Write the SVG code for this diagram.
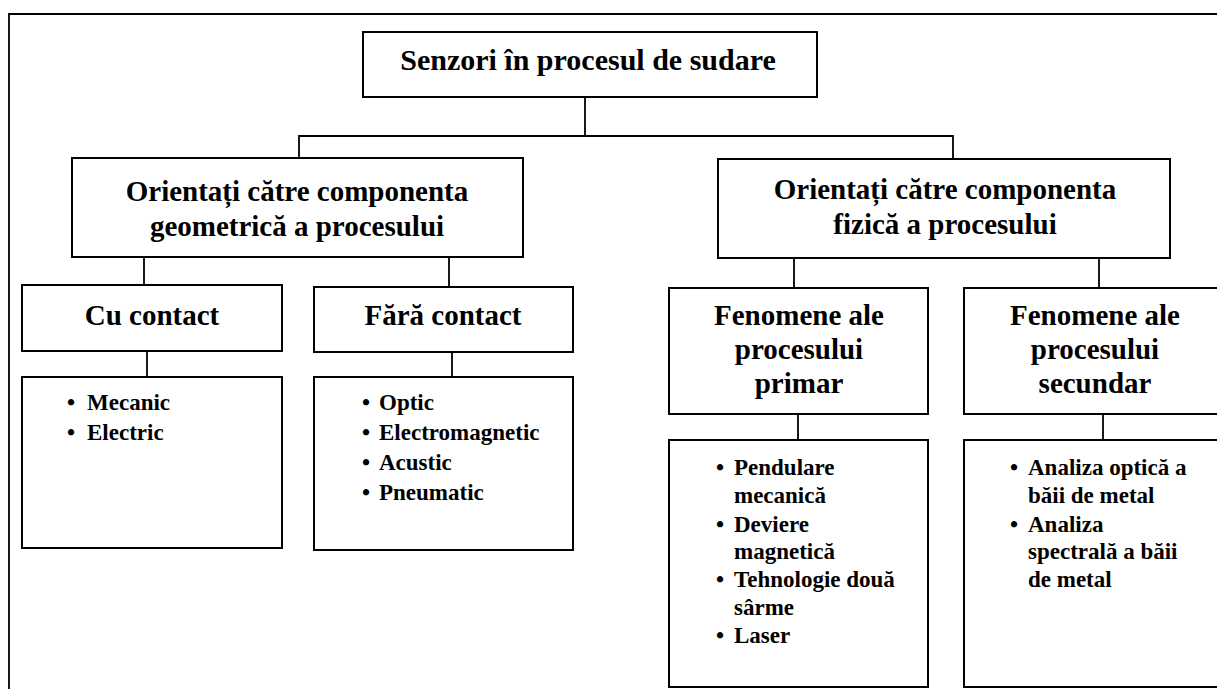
<svg xmlns="http://www.w3.org/2000/svg" width="1217" height="689" viewBox="0 0 1217 689">
<style>
.box{fill:#fff;stroke:#000;stroke-width:2}
.ln{fill:none;stroke:#000;stroke-width:1.8}
.h{font-family:"Liberation Serif","Times New Roman",serif;font-weight:bold;font-size:29px;text-anchor:middle;fill:#000}
.t{font-family:"Liberation Serif","Times New Roman",serif;font-weight:bold;font-size:23px;fill:#000}
.b{font-family:"Liberation Serif","Times New Roman",serif;font-weight:bold;font-size:23px;text-anchor:middle;fill:#000}
</style>
<rect width="1217" height="689" fill="#fff"/>
<g id="frame">
<path class="ln" d="M9,689 V14 H1217" stroke-width="2"/>
</g>
<g id="connectors">
<path class="ln" d="M585,97 V136"/>
<path class="ln" d="M299,158 V136 H953 V159"/>
<path class="ln" d="M144,257 V285"/>
<path class="ln" d="M449,257 V287"/>
<path class="ln" d="M147,351 V377"/>
<path class="ln" d="M452,352 V377"/>
<path class="ln" d="M794,258 V288"/>
<path class="ln" d="M1099,258 V288"/>
<path class="ln" d="M798,414 V440"/>
<path class="ln" d="M1103,414 V440"/>
</g>
<g id="root">
<rect class="box" x="363" y="32" width="454" height="65"/>
<text class="h" x="588" y="70" style="font-size:30px">Senzori în procesul de sudare</text>
</g>
<g id="geometric">
<rect class="box" x="72" y="158" width="451" height="99"/>
<text class="h" x="297" y="201">Orientați către componenta</text>
<text class="h" x="297" y="236">geometrică a procesului</text>
</g>
<g id="fizic">
<rect class="box" x="718" y="159" width="452" height="99"/>
<text class="h" x="945" y="199">Orientați către componenta</text>
<text class="h" x="945" y="234">fizică a procesului</text>
</g>
<g id="cu-contact">
<rect class="box" x="22" y="285" width="260" height="66"/>
<text class="h" x="152" y="325">Cu contact</text>
</g>
<g id="fara-contact">
<rect class="box" x="314" y="287" width="259" height="65"/>
<text class="h" x="443" y="325">Fără contact</text>
</g>
<g id="primar">
<rect class="box" x="669" y="288" width="259" height="126"/>
<text class="h" x="799" y="325">Fenomene ale</text>
<text class="h" x="799" y="359">procesului</text>
<text class="h" x="799" y="393">primar</text>
</g>
<g id="secundar">
<rect class="box" x="964" y="288" width="262" height="126"/>
<text class="h" x="1095" y="325">Fenomene ale</text>
<text class="h" x="1095" y="359">procesului</text>
<text class="h" x="1095" y="393">secundar</text>
</g>
<g id="cu-contact-list">
<rect class="box" x="22" y="377" width="260" height="171"/>
<text class="b" x="71" y="410">•</text><text class="t" x="87" y="410">Mecanic</text>
<text class="b" x="71" y="440">•</text><text class="t" x="87" y="440">Electric</text>
</g>
<g id="fara-contact-list">
<rect class="box" x="314" y="377" width="259" height="173"/>
<text class="b" x="366" y="410">•</text><text class="t" x="379" y="410">Optic</text>
<text class="b" x="366" y="440">•</text><text class="t" x="379" y="440">Electromagnetic</text>
<text class="b" x="366" y="470">•</text><text class="t" x="379" y="470">Acustic</text>
<text class="b" x="366" y="500">•</text><text class="t" x="379" y="500">Pneumatic</text>
</g>
<g id="primar-list">
<rect class="box" x="669" y="440" width="259" height="247"/>
<text class="b" x="720" y="475">•</text><text class="t" x="734" y="475">Pendulare</text>
<text class="t" x="734" y="503">mecanică</text>
<text class="b" x="720" y="532">•</text><text class="t" x="734" y="532">Deviere</text>
<text class="t" x="734" y="559">magnetică</text>
<text class="b" x="720" y="587">•</text><text class="t" x="734" y="587">Tehnologie două</text>
<text class="t" x="734" y="615">sârme</text>
<text class="b" x="720" y="643">•</text><text class="t" x="734" y="643">Laser</text>
</g>
<g id="secundar-list">
<rect class="box" x="964" y="440" width="262" height="247"/>
<text class="b" x="1014" y="475">•</text><text class="t" x="1028" y="475">Analiza optică a</text>
<text class="t" x="1028" y="503">băii de metal</text>
<text class="b" x="1014" y="532">•</text><text class="t" x="1028" y="532">Analiza</text>
<text class="t" x="1028" y="559">spectrală a băii</text>
<text class="t" x="1028" y="587">de metal</text>
</g>
</svg>
